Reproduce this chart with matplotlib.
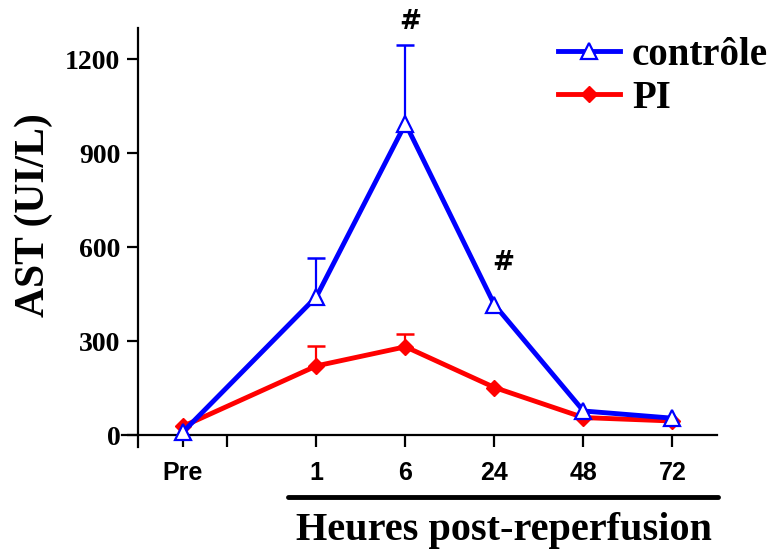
import matplotlib
matplotlib.use("Agg")
import matplotlib.pyplot as plt
import numpy as np

# data
labels = ["Pre", "1", "6", "24", "48", "72"]
xpos = [0, 1.5, 2.5, 3.5, 4.5, 5.5]
controle = [10, 442, 995, 416, 77, 54]
controle_err = [0, 124, 250, 0, 0, 0]
pi = [28, 221, 282, 152, 56, 45]
pi_err = [0, 64, 41, 0, 0, 0]
hash_marks = [(2.55, 1318), (3.6, 548)]

serif = "Liberation Serif"
sans = "Liberation Sans"

fig = plt.figure(figsize=(7.73, 5.59), dpi=100)
ax = fig.add_axes([122 / 773, 1 - 447 / 559, (717 - 122) / 773, (447 - 28) / 559])

blue = "#0000ff"
red = "#ff0000"


def upper_errorbars(x, y, err, color):
    x = np.asarray(x, float)
    y = np.asarray(y, float)
    err = np.asarray(err, float)
    keep = err > 0
    eb = ax.errorbar(x[keep], y[keep], yerr=[np.zeros(keep.sum()), err[keep]],
                     fmt="none", ecolor=color, elinewidth=1.6, capsize=6.5,
                     capthick=1.8, zorder=2)
    # hide the caps that sit on the points themselves
    for cap in eb[1]:
        if np.allclose(cap.get_ydata(), y[keep]):
            cap.set_visible(False)


upper_errorbars(xpos, controle, controle_err, blue)
upper_errorbars(xpos, pi, pi_err, red)

ax.plot(xpos, pi, color=red, lw=3.5, marker="D", ms=8, mfc=red, mec=red,
        label="PI", zorder=3)
ax.plot(xpos, controle, color=blue, lw=3.5, marker="^", ms=12, mfc="white", mec=blue,
        mew=1.6, label="contrôle", zorder=4)

for hx, hy in hash_marks:
    ax.text(hx, hy, "#", ha="center", va="center", fontsize=19, fontweight="bold",
            family="DejaVu Sans", clip_on=False)

ax.set_xlim(-0.685, 6.0)
ax.set_ylim(-38, 1300)
for s in ["top", "right"]:
    ax.spines[s].set_visible(False)
ax.spines["left"].set_position(("data", -0.5))
ax.spines["bottom"].set_position(("data", 0))
ax.spines["left"].set_linewidth(1.6)
ax.spines["bottom"].set_linewidth(1.6)

ax.set_yticks([0, 300, 600, 900, 1200])
ax.set_xticks([0, 0.5, 1.5, 2.5, 3.5, 4.5, 5.5])
ax.set_xticklabels(["Pre", ""] + labels[1:])
ax.tick_params(axis="y", direction="out", length=8, width=1.6, pad=5)
ax.tick_params(axis="x", direction="out", length=8.5, width=1.6, pad=10)
for t in ax.get_yticklabels():
    t.set_fontfamily(serif)
    t.set_fontweight("bold")
    t.set_fontsize(20)
for t in ax.get_xticklabels():
    t.set_fontfamily(sans)
    t.set_fontweight("bold")
    t.set_fontsize(18)

fig.text(34 / 773, 1 - 215 / 559, "AST (UI/L)", rotation=90, ha="center", va="center",
         fontsize=30, fontweight="bold", family=serif)

# bar under the hour labels and x title
trans = ax.get_xaxis_transform()
ax.plot([1.18, 6.01], [-0.119, -0.119], color="black", lw=3.5, transform=trans,
        clip_on=False, solid_capstyle="round")
ax.text(3.61, -0.2, "Heures post-reperfusion", transform=trans, ha="center",
        va="center", fontsize=29, fontweight="bold", family=serif)

handles, lbls = ax.get_legend_handles_labels()
leg = ax.legend(handles[::-1], lbls[::-1], loc="upper left",
                bbox_to_anchor=(558 / 773, 1 - 37 / 559), bbox_transform=fig.transFigure,
                frameon=False, borderpad=0, borderaxespad=0, handlelength=1.6,
                handletextpad=0.3, labelspacing=0.15,
                prop={"family": serif, "weight": "bold", "size": 28})

fig.savefig("out.png", dpi=100)
